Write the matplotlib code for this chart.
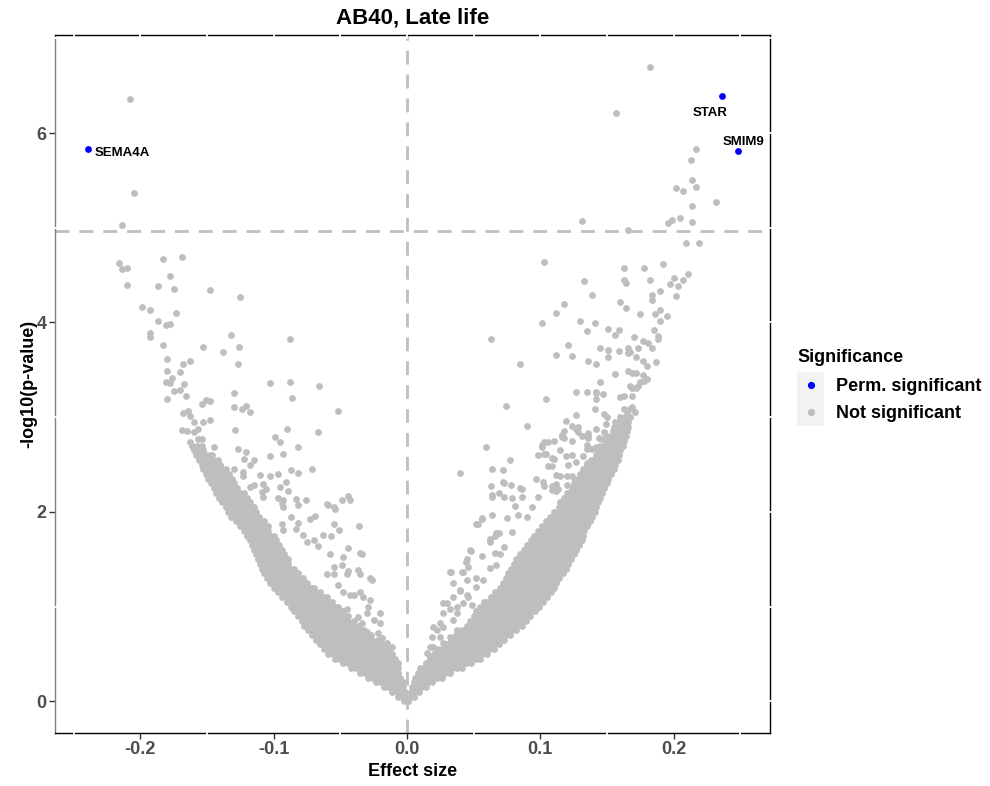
import matplotlib.pyplot as plt
from matplotlib.lines import Line2D
from matplotlib.patches import Rectangle
from matplotlib.legend_handler import HandlerBase

plt.rcParams['font.family'] = ['Liberation Sans', 'DejaVu Sans']
plt.rcParams['font.weight'] = 'bold'

# dense part of the V, read row by row: (-log10 p, [effect sizes])
left_band = [
    (0.00, [-0.002, 0.0005]),
    (0.05, [-0.0065, -0.003, -0.001]),
    (0.10, [-0.011, -0.0075, -0.004, -0.0015]),
    (0.15, [-0.017, -0.0135, -0.010, -0.0065, -0.003]),
    (0.20, [-0.023, -0.0195, -0.016, -0.0125, -0.009, -0.0055, -0.003]),
    (0.25, [-0.029, -0.0255, -0.022, -0.0185, -0.015, -0.0115, -0.008, -0.005]),
    (0.30, [-0.035, -0.0315, -0.028, -0.0245, -0.021, -0.0175, -0.014, -0.0105, -0.007]),
    (0.35, [-0.042, -0.0385, -0.035, -0.0315, -0.028, -0.0245, -0.021, -0.0175, -0.014, -0.0105, -0.007]),
    (0.40, [-0.048, -0.0445, -0.041, -0.0375, -0.034, -0.0305, -0.027, -0.0235, -0.020, -0.0165,
            -0.013, -0.0095, -0.007]),
    (0.45, [-0.054, -0.0505, -0.047, -0.0435, -0.040, -0.0365, -0.033, -0.0295, -0.026, -0.0225,
            -0.019, -0.0155, -0.012, -0.009]),
    (0.50, [-0.059, -0.0555, -0.052, -0.0485, -0.045, -0.0415, -0.038, -0.0345, -0.031, -0.0275,
            -0.024, -0.0205, -0.017, -0.0135, -0.011]),
    (0.55, [-0.062, -0.0585, -0.055, -0.0515, -0.048, -0.0445, -0.041, -0.0375, -0.034, -0.0305,
            -0.027, -0.0235, -0.020, -0.0165, -0.014]),
    (0.60, [-0.065, -0.0615, -0.058, -0.0545, -0.051, -0.0475, -0.044, -0.0405, -0.037, -0.0335,
            -0.030, -0.0265, -0.023, -0.019]),
    (0.65, [-0.068, -0.0645, -0.061, -0.0575, -0.054, -0.0505, -0.047, -0.0435, -0.040, -0.0365,
            -0.033, -0.0295, -0.026, -0.022]),
    (0.70, [-0.071, -0.0675, -0.064, -0.0605, -0.057, -0.0535, -0.050, -0.0465, -0.043, -0.0395,
            -0.036, -0.0325, -0.029, -0.027]),
    (0.75, [-0.074, -0.0705, -0.067, -0.0635, -0.060, -0.0565, -0.053, -0.0495, -0.046, -0.0425,
            -0.039, -0.0355, -0.032]),
    (0.80, [-0.077, -0.0735, -0.070, -0.0665, -0.063, -0.0595, -0.056, -0.0525, -0.049, -0.0455,
            -0.042, -0.0385, -0.036]),
    (0.85, [-0.079, -0.0755, -0.072, -0.0685, -0.065, -0.0615, -0.058, -0.0545, -0.051, -0.0475,
            -0.044, -0.040]),
    (0.90, [-0.082, -0.0785, -0.075, -0.0715, -0.068, -0.0645, -0.061, -0.0575, -0.054, -0.0505,
            -0.047, -0.044]),
    (0.95, [-0.085, -0.0815, -0.078, -0.0745, -0.071, -0.0675, -0.064, -0.0605, -0.057, -0.0535,
            -0.050, -0.048]),
    (1.00, [-0.087, -0.0835, -0.080, -0.0765, -0.073, -0.0695, -0.066, -0.0625, -0.059, -0.0555, -0.052]),
    (1.05, [-0.090, -0.0865, -0.083, -0.0795, -0.076, -0.0725, -0.069, -0.0655, -0.062, -0.0585, -0.056]),
    (1.10, [-0.094, -0.0905, -0.087, -0.0835, -0.080, -0.0765, -0.073, -0.0695, -0.066, -0.0625, -0.060]),
    (1.15, [-0.097, -0.0935, -0.090, -0.0865, -0.083, -0.0795, -0.076, -0.0725, -0.069, -0.065]),
    (1.20, [-0.100, -0.0965, -0.093, -0.0895, -0.086, -0.0825, -0.079, -0.0755, -0.072, -0.070]),
    (1.25, [-0.103, -0.0995, -0.096, -0.0925, -0.089, -0.0855, -0.082, -0.0785, -0.075]),
    (1.30, [-0.105, -0.1015, -0.098, -0.0945, -0.091, -0.0875, -0.084, -0.0805, -0.078]),
    (1.35, [-0.107, -0.1035, -0.100, -0.0965, -0.093, -0.0895, -0.086, -0.082]),
    (1.40, [-0.109, -0.1055, -0.102, -0.0985, -0.095, -0.0915, -0.088, -0.085]),
    (1.45, [-0.110, -0.1065, -0.103, -0.0995, -0.096, -0.0925, -0.089]),
    (1.50, [-0.112, -0.1085, -0.105, -0.1015, -0.098, -0.0945, -0.091, -0.089]),
    (1.55, [-0.113, -0.1095, -0.106, -0.1025, -0.099, -0.0955, -0.092]),
    (1.60, [-0.115, -0.1115, -0.108, -0.1045, -0.101, -0.0975, -0.094]),
    (1.65, [-0.116, -0.1125, -0.109, -0.1055, -0.102, -0.0985, -0.096]),
    (1.70, [-0.118, -0.1145, -0.111, -0.1075, -0.104, -0.1005, -0.098]),
    (1.75, [-0.120, -0.1165, -0.113, -0.1095, -0.106, -0.1025, -0.100]),
    (1.80, [-0.122, -0.1185, -0.115, -0.1115, -0.108, -0.1045]),
    (1.85, [-0.125, -0.1215, -0.118, -0.1145, -0.111, -0.1075, -0.104]),
    (1.90, [-0.128, -0.1245, -0.121, -0.1175, -0.114, -0.1105, -0.107]),
    (1.95, [-0.132, -0.1285, -0.125, -0.1215, -0.118, -0.1145, -0.111]),
    (2.00, [-0.134, -0.1305, -0.127, -0.1235, -0.120, -0.1165, -0.113]),
    (2.05, [-0.136, -0.1325, -0.129, -0.1255, -0.122, -0.1185, -0.115]),
    (2.10, [-0.139, -0.1355, -0.132, -0.1285, -0.125, -0.1215, -0.118]),
    (2.15, [-0.141, -0.1375, -0.134, -0.1305, -0.127, -0.1235, -0.120]),
    (2.20, [-0.143, -0.1395, -0.136, -0.1325, -0.129, -0.1255, -0.122]),
    (2.25, [-0.145, -0.1415, -0.138, -0.1345, -0.131, -0.1275]),
    (2.30, [-0.147, -0.1435, -0.140, -0.1365, -0.133, -0.1295]),
    (2.35, [-0.149, -0.1455, -0.142, -0.1385, -0.135, -0.1315]),
    (2.40, [-0.151, -0.1475, -0.144, -0.1405, -0.137, -0.1335]),
    (2.45, [-0.153, -0.1495, -0.146, -0.1425, -0.139, -0.1355]),
    (2.50, [-0.154, -0.1505, -0.147, -0.1435, -0.140]),
    (2.55, [-0.156, -0.1525, -0.149, -0.1455, -0.142]),
    (2.60, [-0.158, -0.1545, -0.151, -0.1475]),
    (2.65, [-0.160, -0.1565, -0.153]),
    (2.70, [-0.161, -0.1575, -0.154]),
]

right_band = [
    (0.00, [0.001]),
    (0.05, [0.005, 0.002]),
    (0.10, [0.009, 0.0055, 0.003]),
    (0.15, [0.014, 0.0105, 0.007, 0.004]),
    (0.20, [0.019, 0.0155, 0.012, 0.0085, 0.005]),
    (0.25, [0.026, 0.0225, 0.019, 0.0155, 0.012, 0.0085, 0.006]),
    (0.30, [0.032, 0.0285, 0.025, 0.0215, 0.018, 0.0145, 0.011, 0.008]),
    (0.35, [0.041, 0.0375, 0.034, 0.0305, 0.027, 0.0235, 0.020, 0.0165, 0.013, 0.010]),
    (0.40, [0.048, 0.0445, 0.041, 0.0375, 0.034, 0.0305, 0.027, 0.0235, 0.020, 0.0165, 0.014]),
    (0.45, [0.055, 0.0515, 0.048, 0.0445, 0.041, 0.0375, 0.034, 0.0305, 0.027, 0.0235, 0.020, 0.017]),
    (0.50, [0.060, 0.0565, 0.053, 0.0495, 0.046, 0.0425, 0.039, 0.0355, 0.032, 0.0285, 0.025,
            0.0215, 0.020]),
    (0.55, [0.065, 0.0615, 0.058, 0.0545, 0.051, 0.0475, 0.044, 0.0405, 0.037, 0.0335, 0.030,
            0.0265, 0.023]),
    (0.60, [0.069, 0.0655, 0.062, 0.0585, 0.055, 0.0515, 0.048, 0.0445, 0.041, 0.0375, 0.034,
            0.0305, 0.029]),
    (0.65, [0.073, 0.0695, 0.066, 0.0625, 0.059, 0.0555, 0.052, 0.0485, 0.045, 0.0415, 0.038,
            0.0345, 0.033]),
    (0.70, [0.077, 0.0735, 0.070, 0.0665, 0.063, 0.0595, 0.056, 0.0525, 0.049, 0.0455, 0.042,
            0.0385, 0.037]),
    (0.75, [0.082, 0.0785, 0.075, 0.0715, 0.068, 0.0645, 0.061, 0.0575, 0.054, 0.0505, 0.047,
            0.0435, 0.041]),
    (0.80, [0.086, 0.0825, 0.079, 0.0755, 0.072, 0.0685, 0.065, 0.0615, 0.058, 0.0545, 0.051,
            0.0475, 0.045]),
    (0.85, [0.089, 0.0855, 0.082, 0.0785, 0.075, 0.0715, 0.068, 0.0645, 0.061, 0.0575, 0.054,
            0.0505, 0.047]),
    (0.90, [0.092, 0.0885, 0.085, 0.0815, 0.078, 0.0745, 0.071, 0.0675, 0.064, 0.0605, 0.057,
            0.0535, 0.050]),
    (0.95, [0.096, 0.0925, 0.089, 0.0855, 0.082, 0.0785, 0.075, 0.0715, 0.068, 0.0645, 0.061,
            0.0575, 0.054, 0.052]),
    (1.00, [0.099, 0.0955, 0.092, 0.0885, 0.085, 0.0815, 0.078, 0.0745, 0.071, 0.0675, 0.064,
            0.0605, 0.057, 0.055]),
    (1.05, [0.102, 0.0985, 0.095, 0.0915, 0.088, 0.0845, 0.081, 0.0775, 0.074, 0.0705, 0.067,
            0.0635, 0.060, 0.058]),
    (1.10, [0.105, 0.1015, 0.098, 0.0945, 0.091, 0.0875, 0.084, 0.0805, 0.077, 0.0735, 0.070,
            0.0665, 0.063]),
    (1.15, [0.108, 0.1045, 0.101, 0.0975, 0.094, 0.0905, 0.087, 0.0835, 0.080, 0.0765, 0.073,
            0.0695, 0.066]),
    (1.20, [0.110, 0.1065, 0.103, 0.0995, 0.096, 0.0925, 0.089, 0.0855, 0.082, 0.0785, 0.075,
            0.0715, 0.070]),
    (1.25, [0.112, 0.1085, 0.105, 0.1015, 0.098, 0.0945, 0.091, 0.0875, 0.084, 0.0805, 0.077,
            0.0735, 0.072]),
    (1.30, [0.114, 0.1105, 0.107, 0.1035, 0.100, 0.0965, 0.093, 0.0895, 0.086, 0.0825, 0.079,
            0.0755, 0.074]),
    (1.35, [0.117, 0.1135, 0.110, 0.1065, 0.103, 0.0995, 0.096, 0.0925, 0.089, 0.0855, 0.082,
            0.0785, 0.076]),
    (1.40, [0.119, 0.1155, 0.112, 0.1085, 0.105, 0.1015, 0.098, 0.0945, 0.091, 0.0875, 0.084,
            0.0805, 0.078]),
    (1.45, [0.121, 0.1175, 0.114, 0.1105, 0.107, 0.1035, 0.100, 0.0965, 0.093, 0.0895, 0.086,
            0.0825, 0.080]),
    (1.50, [0.123, 0.1195, 0.116, 0.1125, 0.109, 0.1055, 0.102, 0.0985, 0.095, 0.0915, 0.088,
            0.0845, 0.082]),
    (1.55, [0.125, 0.1215, 0.118, 0.1145, 0.111, 0.1075, 0.104, 0.1005, 0.097, 0.0935, 0.090,
            0.0865, 0.085]),
    (1.60, [0.127, 0.1235, 0.120, 0.1165, 0.113, 0.1095, 0.106, 0.1025, 0.099, 0.0955, 0.092, 0.088]),
    (1.65, [0.129, 0.1255, 0.122, 0.1185, 0.115, 0.1115, 0.108, 0.1045, 0.101, 0.0975, 0.094, 0.090]),
    (1.70, [0.131, 0.1275, 0.124, 0.1205, 0.117, 0.1135, 0.110, 0.1065, 0.103, 0.0995, 0.096, 0.093]),
    (1.75, [0.132, 0.1285, 0.125, 0.1215, 0.118, 0.1145, 0.111, 0.1075, 0.104, 0.1005, 0.097, 0.095]),
    (1.80, [0.133, 0.1295, 0.126, 0.1225, 0.119, 0.1155, 0.112, 0.1085, 0.105, 0.1015, 0.098]),
    (1.85, [0.135, 0.1315, 0.128, 0.1245, 0.121, 0.1175, 0.114, 0.1105, 0.107, 0.1035, 0.101]),
    (1.90, [0.137, 0.1335, 0.130, 0.1265, 0.123, 0.1195, 0.116, 0.1125, 0.109, 0.1055, 0.104]),
    (1.95, [0.139, 0.1355, 0.132, 0.1285, 0.125, 0.1215, 0.118, 0.1145, 0.111, 0.107]),
    (2.00, [0.141, 0.1375, 0.134, 0.1305, 0.127, 0.1235, 0.120, 0.1165, 0.113, 0.110]),
    (2.05, [0.142, 0.1385, 0.135, 0.1315, 0.128, 0.1245, 0.121, 0.1175, 0.114]),
    (2.10, [0.143, 0.1395, 0.136, 0.1325, 0.129, 0.1255, 0.122, 0.1185, 0.115]),
    (2.15, [0.145, 0.1415, 0.138, 0.1345, 0.131, 0.1275, 0.124, 0.1205, 0.118]),
    (2.20, [0.146, 0.1425, 0.139, 0.1355, 0.132, 0.1285, 0.125, 0.1215, 0.120]),
    (2.25, [0.148, 0.1445, 0.141, 0.1375, 0.134, 0.1305, 0.127, 0.1235]),
    (2.30, [0.150, 0.1465, 0.143, 0.1395, 0.136, 0.1325, 0.129, 0.1255]),
    (2.35, [0.151, 0.1475, 0.144, 0.1405, 0.137, 0.1335, 0.130, 0.128]),
    (2.40, [0.153, 0.1495, 0.146, 0.1425, 0.139, 0.1355, 0.132, 0.130]),
    (2.45, [0.155, 0.1515, 0.148, 0.1445, 0.141, 0.1375, 0.134, 0.132]),
    (2.50, [0.156, 0.1525, 0.149, 0.1455, 0.142, 0.1385, 0.135]),
    (2.55, [0.158, 0.1545, 0.151, 0.1475, 0.144, 0.1405, 0.138]),
    (2.60, [0.159, 0.1555, 0.152, 0.1485, 0.145, 0.1415]),
    (2.65, [0.160, 0.1565, 0.153, 0.1495, 0.146, 0.143]),
    (2.70, [0.162, 0.1585, 0.155, 0.1515, 0.148, 0.145]),
    (2.75, [0.163, 0.1595, 0.156, 0.1525, 0.149]),
    (2.80, [0.164, 0.1605, 0.157, 0.1535, 0.150]),
    (2.85, [0.165, 0.1615, 0.158, 0.1545]),
    (2.90, [0.166, 0.1625, 0.159, 0.1555]),
    (2.95, [0.166, 0.1625, 0.159]),
    (3.00, [0.167, 0.1635, 0.160]),
]

# looser genes, (effect size, -log10 p)
left_scatter = [
    (-0.216, 4.63), (-0.214, 4.56), (-0.210, 4.58), (-0.210, 4.40), (-0.183, 4.67), (-0.169, 4.69),
    (-0.178, 4.49), (-0.187, 4.39), (-0.175, 4.35), (-0.148, 4.34), (-0.125, 4.27), (-0.199, 4.16),
    (-0.193, 4.13), (-0.173, 4.10), (-0.187, 4.02), (-0.181, 3.97), (-0.178, 3.98), (-0.193, 3.89),
    (-0.193, 3.85), (-0.183, 3.76), (-0.132, 3.87), (-0.088, 3.82), (-0.153, 3.74), (-0.126, 3.74),
    (-0.138, 3.69), (-0.180, 3.61), (-0.168, 3.56), (-0.163, 3.59), (-0.127, 3.56), (-0.180, 3.49),
    (-0.170, 3.48), (-0.176, 3.41), (-0.181, 3.37), (-0.178, 3.36), (-0.167, 3.35), (-0.103, 3.36),
    (-0.088, 3.37), (-0.066, 3.33), (-0.175, 3.28), (-0.170, 3.29), (-0.166, 3.22), (-0.130, 3.26),
    (-0.086, 3.20), (-0.180, 3.19), (-0.151, 3.18), (-0.148, 3.17), (-0.154, 3.14), (-0.130, 3.11),
    (-0.124, 3.09), (-0.121, 3.12), (-0.118, 3.05), (-0.052, 3.06), (-0.168, 3.04), (-0.164, 3.06),
    (-0.163, 3.01), (-0.148, 2.97), (-0.153, 2.95), (-0.160, 2.95), (-0.169, 2.86), (-0.165, 2.85),
    (-0.157, 2.87), (-0.160, 2.84), (-0.129, 2.86), (-0.090, 2.88), (-0.067, 2.84), (-0.157, 2.77),
    (-0.154, 2.77), (-0.163, 2.74), (-0.157, 2.69), (-0.145, 2.68), (-0.127, 2.66), (-0.121, 2.63),
    (-0.099, 2.79), (-0.095, 2.74), (-0.082, 2.69), (-0.155, 2.59), (-0.146, 2.60), (-0.122, 2.56),
    (-0.115, 2.55), (-0.103, 2.59), (-0.093, 2.61), (-0.142, 2.51), (-0.118, 2.50),
    (-0.087, 2.44), (-0.082, 2.41), (-0.071, 2.45), (-0.110, 2.39), (-0.103, 2.38), (-0.097, 2.40),
    (-0.123, 2.42), (-0.123, 2.38), (-0.130, 2.45), (-0.091, 2.31), (-0.095, 2.26), (-0.089, 2.22),
    (-0.108, 2.29), (-0.106, 2.24), (-0.115, 2.28), (-0.118, 2.26), (-0.083, 2.14), (-0.076, 2.12),
    (-0.082, 2.07), (-0.059, 2.07), (-0.055, 2.05), (-0.044, 2.17), (-0.043, 2.12), (-0.049, 2.12),
    (-0.097, 2.15), (-0.093, 2.13), (-0.109, 2.21), (-0.108, 2.16), (-0.094, 2.09), (-0.093, 2.05),
    (-0.054, 2.03), (-0.073, 1.92), (-0.069, 1.96), (-0.087, 1.95), (-0.082, 1.88), (-0.083, 1.82),
    (-0.094, 1.87), (-0.093, 1.81), (-0.055, 1.87), (-0.051, 1.81), (-0.036, 1.85), (-0.063, 1.76),
    (-0.057, 1.74), (-0.078, 1.76), (-0.075, 1.68), (-0.070, 1.70), (-0.067, 1.64), (-0.044, 1.62),
    (-0.035, 1.57), (-0.034, 1.55), (-0.058, 1.55), (-0.048, 1.52), (-0.049, 1.44), (-0.055, 1.42),
    (-0.044, 1.38), (-0.037, 1.39), (-0.035, 1.34), (-0.028, 1.30), (-0.060, 2.08), (-0.045, 1.34),
    (-0.048, 1.15), (-0.040, 1.12), (-0.033, 1.10), (-0.028, 1.07), (-0.054, 1.00), (-0.045, 0.97),
    (-0.037, 0.89), (-0.030, 0.93), (-0.020, 0.93), (-0.025, 0.86), (-0.020, 0.83), (-0.034, 0.83),
    (-0.030, 0.73), (-0.022, 0.72), (-0.019, 0.67), (-0.015, 0.62), (-0.016, 0.51), (-0.011, 0.57),
    (-0.026, 1.28), (-0.043, 1.12), (-0.052, 1.23), (-0.055, 1.34), (-0.060, 1.34), (-0.035, 1.15),
    (-0.029, 1.00), (-0.018, 0.57), (-0.015, 0.46),
]

right_scatter = [
    (0.209, 4.84), (0.219, 4.84), (0.2105, 4.51), (0.207, 4.45), (0.200, 4.47), (0.197, 4.41),
    (0.203, 4.39), (0.202, 4.28), (0.192, 4.62), (0.178, 4.57), (0.1625, 4.58), (0.182, 4.45),
    (0.163, 4.45), (0.164, 4.42), (0.1895, 4.33), (0.1835, 4.29), (0.1835, 4.24), (0.160, 4.22),
    (0.164, 4.15), (0.175, 4.09), (0.186, 4.09), (0.190, 4.13), (0.195, 4.07), (0.1895, 4.01),
    (0.185, 3.92), (0.188, 3.86), (0.188, 3.82), (0.177, 3.80), (0.181, 3.78), (0.1835, 3.73),
    (0.170, 3.85), (0.1655, 3.73), (0.167, 3.69), (0.173, 3.73), (0.172, 3.64), (0.177, 3.59),
    (0.180, 3.54), (0.187, 3.58), (0.166, 3.49), (0.169, 3.47), (0.172, 3.47), (0.177, 3.44),
    (0.180, 3.40), (0.175, 3.37), (0.167, 3.33), (0.169, 3.31), (0.172, 3.31), (0.160, 3.21),
    (0.163, 3.22), (0.169, 3.22), (0.163, 3.09), (0.167, 3.09), (0.171, 3.05), (0.165, 3.03),
    (0.156, 2.95), (0.157, 2.92), (0.165, 2.91), (0.160, 2.85), (0.1625, 2.80), (0.154, 2.76),
    (0.1505, 2.78), (0.1475, 2.84), (0.142, 2.87), (0.149, 2.93), (0.148, 3.03), (0.141, 3.09),
    (0.142, 3.19), (0.142, 3.26), (0.147, 3.24), (0.145, 3.37), (0.156, 3.46), (0.135, 3.27),
    (0.127, 3.27), (0.1265, 3.02), (0.119, 2.96), (0.124, 2.91), (0.127, 2.87), (0.131, 2.80),
    (0.1355, 2.80), (0.1026, 4.64), (0.1326, 4.44), (0.139, 4.29), (0.118, 4.19), (0.112, 4.10),
    (0.101, 3.99), (0.130, 4.01), (0.141, 3.99), (0.135, 3.91), (0.1506, 3.93), (0.159, 3.92),
    (0.156, 3.87), (0.1206, 3.76), (0.112, 3.66), (0.124, 3.65), (0.136, 3.59), (0.142, 3.56),
    (0.145, 3.73), (0.1506, 3.71), (0.151, 3.63), (0.159, 3.70), (0.1655, 3.68), (0.063, 3.83),
    (0.085, 3.56), (0.074, 3.12), (0.090, 2.91), (0.104, 3.19), (0.059, 2.69), (0.169, 3.11),
    (0.173, 3.33), (0.178, 3.38), (0.150, 3.00), (0.162, 2.85), (0.146, 2.77), (0.1386, 2.66),
    (0.135, 2.71), (0.135, 2.81), (0.128, 2.90), (0.128, 2.84), (0.142, 3.27),
    (0.040, 2.41), (0.077, 2.55), (0.064, 2.45), (0.072, 2.44), (0.063, 2.27), (0.073, 2.30),
    (0.078, 2.28), (0.085, 2.25), (0.064, 2.16), (0.069, 2.20), (0.073, 2.16), (0.079, 2.15),
    (0.086, 2.16), (0.081, 2.06), (0.116, 2.81), (0.118, 2.78), (0.124, 2.75), (0.136, 2.83),
    (0.136, 2.78), (0.144, 2.78), (0.150, 2.79), (0.103, 2.74), (0.101, 2.69), (0.110, 2.75),
    (0.115, 2.65), (0.104, 2.61), (0.098, 2.60), (0.110, 2.56), (0.119, 2.59), (0.124, 2.60),
    (0.127, 2.53), (0.135, 2.66), (0.136, 2.69), (0.142, 2.69), (0.152, 2.69), (0.156, 2.69),
    (0.1446, 2.57), (0.1506, 2.52), (0.157, 2.57), (0.137, 2.52), (0.139, 2.47), (0.145, 2.39),
    (0.1446, 2.26), (0.106, 2.48), (0.112, 2.39), (0.115, 2.38), (0.120, 2.38), (0.124, 2.38),
    (0.097, 2.35), (0.102, 2.31), (0.112, 2.29), (0.120, 2.28), (0.130, 2.29), (0.098, 2.16),
    (0.109, 2.23), (0.112, 2.22), (0.056, 1.94), (0.053, 1.87), (0.064, 1.97), (0.075, 1.94),
    (0.048, 1.59), (0.056, 1.53), (0.044, 1.47), (0.046, 1.42), (0.033, 1.37), (0.041, 1.36),
    (0.062, 1.68), (0.066, 1.74), (0.069, 1.78), (0.066, 1.57), (0.073, 1.63), (0.079, 1.79),
    (0.090, 1.95), (0.094, 2.05), (0.083, 1.97), (0.103, 2.61), (0.109, 2.57), (0.101, 2.71),
    (0.106, 2.74), (0.116, 2.79), (0.118, 2.85), (0.103, 2.27), (0.109, 2.27), (0.113, 2.24),
    (0.126, 2.34), (0.109, 2.48), (0.121, 2.50), (0.133, 2.45), (0.135, 2.52), (0.132, 2.59),
    (0.072, 2.31), (0.064, 2.18), (0.086, 2.24), (0.056, 1.92), (0.052, 1.87), (0.062, 1.71),
    (0.067, 1.78), (0.070, 1.55), (0.047, 1.60), (0.045, 1.50), (0.045, 1.28), (0.052, 1.30),
    (0.040, 1.18), (0.045, 1.12), (0.030, 1.04), (0.0375, 1.00), (0.049, 1.02), (0.027, 0.93),
    (0.0195, 0.78), (0.025, 0.83), (0.0345, 0.86), (0.025, 0.68), (0.0195, 0.57), (0.015, 0.51),
    (0.032, 1.36), (0.042, 1.36), (0.0345, 1.25), (0.040, 1.16), (0.0345, 1.10), (0.027, 1.04),
    (0.032, 0.97), (0.0375, 0.93), (0.042, 1.04), (0.046, 1.10), (0.052, 1.21), (0.057, 1.28),
    (0.062, 1.41), (0.067, 1.44), (0.0225, 0.75), (0.019, 0.68), (0.017, 0.57), (0.0225, 0.54),
    (0.027, 0.62), (0.032, 0.68), (0.027, 0.78), (0.0375, 0.75), (0.017, 0.47), (0.0135, 0.36),
]

# grey genes above the dashed cut-off
top_grey = [
    (-0.2075, 6.36), (-0.205, 5.37), (-0.214, 5.03), (0.182, 6.70), (0.157, 6.21),
    (0.217, 5.83), (0.213, 5.72), (0.2135, 5.50), (0.2165, 5.43), (0.2015, 5.42),
    (0.207, 5.39), (0.2135, 5.23), (0.232, 5.27), (0.131, 5.07), (0.166, 4.98),
    (0.1955, 5.05), (0.1985, 5.08), (0.2045, 5.10), (0.214, 5.06),
]

sig_genes = ['SEMA4A', 'STAR', 'SMIM9']
sig_effect = [-0.2397, 0.2367, 0.248]
sig_logp = [5.83, 6.39, 5.81]
label_offsets = [(5, -2.5), (-9, -12.5), (4, 6.8)]
label_ha = ['left', 'center', 'center']

threshold = 4.97

grey_x, grey_y = [], []
for rows in (left_band, right_band):
    for y, xs in rows:
        grey_x += xs
        grey_y += [y] * len(xs)
for pts in (left_scatter, right_scatter, top_grey):
    grey_x += [p[0] for p in pts]
    grey_y += [p[1] for p in pts]

GREY = '#BEBEBE'
BLUE = '#0000FF'


class KeyHandler(HandlerBase):
    # ggplot style legend key: light grey square with a dot in the middle
    def create_artists(self, legend, orig_handle, xdescent, ydescent,
                       width, height, fontsize, trans):
        bg = Rectangle((-xdescent, -ydescent), width, height,
                       facecolor='#F2F2F2', edgecolor='none', transform=trans)
        dot = Line2D([width / 2 - xdescent], [height / 2 - ydescent], marker='o',
                     ls='', color=orig_handle.get_color(), markersize=4.2,
                     transform=trans)
        return [bg, dot]


fig = plt.figure(figsize=(9.9, 7.86), dpi=100)
ax = fig.add_axes([55 / 990, 1 - 733 / 786, 715 / 990, 698 / 786])

ax.scatter(grey_x, grey_y, s=24, c=GREY, linewidths=0, zorder=3)
ax.scatter(sig_effect, sig_logp, s=24, c=BLUE, linewidths=0, zorder=4)
ax.axhline(threshold, color=GREY, lw=2, ls=(0, (5, 3.6)), zorder=2)
ax.axvline(0, color=GREY, lw=2, ls=(0, (5, 3.6)), zorder=2)
ax.margins(0.05)
ax.autoscale_view()
ax.set_xlim(ax.get_xlim())
ax.set_ylim(ax.get_ylim())

for name, x, y, off, ha in zip(sig_genes, sig_effect, sig_logp, label_offsets, label_ha):
    ax.annotate(name, (x, y), xytext=off, textcoords='offset points',
                ha=ha, va='center', fontsize=9.5, fontweight='bold', zorder=5)

ax.set_xticks([-0.2, -0.1, 0.0, 0.1, 0.2])
ax.set_xticklabels(['-0.2', '-0.1', '0.0', '0.1', '0.2'])
ax.set_yticks([0, 2, 4, 6])
ax.set_yticklabels(['0', '2', '4', '6'])
ax.tick_params(length=4, width=1, color='#333333', labelsize=13,
               labelcolor='#4D4D4D', pad=2)

for side in ['top', 'right', 'bottom']:
    ax.spines[side].set_color('black')
    ax.spines[side].set_linewidth(1)
ax.spines['left'].set_color('#808080')
ax.spines['left'].set_linewidth(1)

# white grid-line nicks where the panel border is crossed
xt = ax.get_xaxis_transform()
yt = ax.get_yaxis_transform()
for k in range(-5, 6):
    gx = k * 0.05
    ax.plot([gx, gx], [0.996, 1.004], transform=xt, color='white', lw=1.3,
            clip_on=False, zorder=6, scalex=False, scaley=False)
    if k % 2:
        ax.plot([gx, gx], [-0.004, 0.004], transform=xt, color='white', lw=1.3,
                clip_on=False, zorder=6, scalex=False, scaley=False)
for k in range(0, 8):
    ax.plot([0.996, 1.004], [k, k], transform=yt, color='white', lw=1.3,
            clip_on=False, zorder=6, scalex=False, scaley=False)
    if k % 2:
        ax.plot([-0.004, 0.004], [k, k], transform=yt, color='white', lw=1.3,
                clip_on=False, zorder=6, scalex=False, scaley=False)

ax.set_xlabel('Effect size', fontsize=13, fontweight='bold', labelpad=3)
ax.set_ylabel('-log10(p-value)', fontsize=13, fontweight='bold', labelpad=-0.5)
ax.set_title('AB40, Late life', fontsize=16, fontweight='bold', pad=8)

handles = [Line2D([], [], color=BLUE), Line2D([], [], color=GREY)]
leg = ax.legend(handles, ['Perm. significant', 'Not significant'],
                handler_map={Line2D: KeyHandler()},
                title='Significance', loc='upper left',
                bbox_to_anchor=(1.038, 0.550), frameon=False, fontsize=13,
                title_fontsize=13, handlelength=1.5, handleheight=1.92,
                labelspacing=0, handletextpad=0.65, borderpad=0,
                borderaxespad=0, alignment='left')
leg.get_title().set_fontweight('bold')
leg._legend_box.sep = 4

fig.savefig('out.png', dpi=100)
